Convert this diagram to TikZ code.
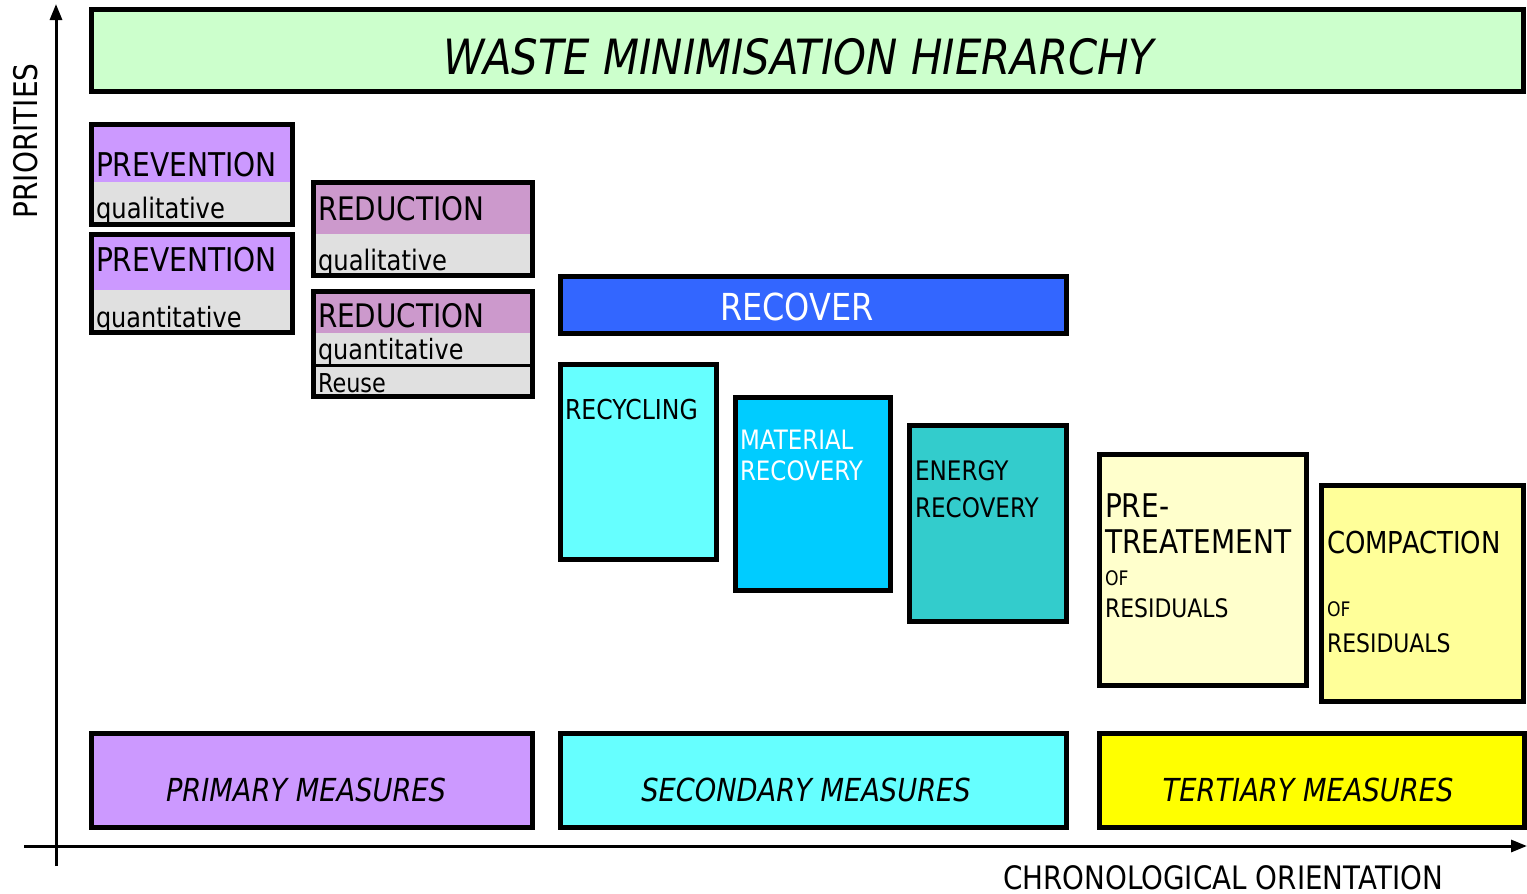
\documentclass[tikz,border=0pt]{standalone}
\usepackage{fontspec}
\setmainfont{DejaVu Sans}[FakeStretch=0.86]
\usetikzlibrary{arrows.meta}
\definecolor{titlegreen}{HTML}{CCFFCC}
\definecolor{prevpurple}{HTML}{CC99FF}
\definecolor{redpurple}{HTML}{CC99CC}
\definecolor{lightgray}{HTML}{E0E0E0}
\definecolor{recblue}{HTML}{3366FF}
\definecolor{cyanlight}{HTML}{66FFFF}
\definecolor{cyanmid}{HTML}{00CCFF}
\definecolor{teal2}{HTML}{33CCCC}
\definecolor{paleyellow}{HTML}{FFFFCC}
\definecolor{midyellow}{HTML}{FFFF99}
\definecolor{brightyellow}{HTML}{FFFF00}
\tikzset{
  boxline/.style={draw=black, line width=5pt},
  lbl/.style={anchor=base west, inner sep=0pt, outer sep=0pt},
  axis/.style={line width=3pt, -{Triangle[length=16pt,width=12pt]}},
}
\newcommand{\fsz}[1]{\fontsize{#1}{#1}\selectfont}
\begin{document}
\begin{tikzpicture}[x=1pt,y=-1pt]
\useasboundingbox (0,0) rectangle (1527,894);
% axes
\coordinate (ybot) at (56,866);
\coordinate (ytop) at (56,4);
\coordinate (xleft) at (24,846);
\coordinate (xright) at (1527,846);
\draw[axis] (ybot) -- (ytop);
\draw[axis] (xleft) -- (xright);
\node[rotate=90, inner sep=0pt] (prio) at (26,141) {\fsz{32.5}PRIORITIES};
\node[lbl] (chrono) at (1003,889) {\fsz{32.3}CHRONOLOGICAL ORIENTATION};

% title
\path[fill=titlegreen, boxline] (91.5,9.5) rectangle (1523.5,91.5);
\node[inner sep=0pt] (title) at (799,57) {\fsz{48.6}\itshape WASTE MINIMISATION HIERARCHY};

% prevention qualitative
\fill[lightgray] (91.5,124.5) rectangle (292.5,224.5);
\fill[prevpurple] (91.5,124.5) rectangle (292.5,182);
\draw[boxline] (91.5,124.5) rectangle (292.5,224.5);
\node[lbl] (pq1) at (96,176) {\fsz{32.7}PREVENTION};
\node[lbl] (pq2) at (96,218) {\fsz{28.2}qualitative};

% prevention quantitative
\fill[lightgray] (91.5,234.5) rectangle (292.5,332.5);
\fill[prevpurple] (91.5,234.5) rectangle (292.5,290);
\draw[boxline] (91.5,234.5) rectangle (292.5,332.5);
\node[lbl] (pn1) at (96,271) {\fsz{32.7}PREVENTION};
\node[lbl] (pn2) at (96,327) {\fsz{27.9}quantitative};

% reduction qualitative
\fill[lightgray] (313.5,182.5) rectangle (532.5,275.5);
\fill[redpurple] (313.5,182.5) rectangle (532.5,234);
\draw[boxline] (313.5,182.5) rectangle (532.5,275.5);
\node[lbl] (rq1) at (318,220) {\fsz{32.4}REDUCTION};
\node[lbl] (rq2) at (318,270) {\fsz{28.2}qualitative};

% reduction quantitative + reuse
\fill[lightgray] (313.5,291.5) rectangle (532.5,396.5);
\fill[redpurple] (313.5,291.5) rectangle (532.5,333);
\draw[line width=3pt] (313.5,365) -- (532.5,365);
\draw[boxline] (313.5,291.5) rectangle (532.5,396.5);
\node[lbl] (rn1) at (318,327) {\fsz{32.4}REDUCTION};
\node[lbl] (rn2) at (318,359) {\fsz{27.9}quantitative};
\node[lbl] (reuse) at (318,392) {\fsz{26}Reuse};

% recover
\path[fill=recblue, boxline] (560.5,276.5) rectangle (1066.5,333.5);
\node[inner sep=0pt, text=white] (recover) at (797,307) {\fsz{37.2}RECOVER};

% recycling
\path[fill=cyanlight, boxline] (560.5,364.5) rectangle (716.5,559.5);
\node[lbl] (recyc) at (565,419) {\fsz{27.4}RECYCLING};

% material recovery
\path[fill=cyanmid, boxline] (735.5,397.5) rectangle (890.5,590.5);
\node[lbl, text=white] (mat1) at (740,449) {\fsz{26.7}MATERIAL};
\node[lbl, text=white] (mat2) at (740,480) {\fsz{26.7}RECOVERY};

% energy recovery
\path[fill=teal2, boxline] (909.5,425.5) rectangle (1066.5,621.5);
\node[lbl] (en1) at (915,480) {\fsz{26.9}ENERGY};
\node[lbl] (en2) at (915,517) {\fsz{26.9}RECOVERY};

% pre-treatment
\path[fill=paleyellow, boxline] (1099.5,454.5) rectangle (1306.5,685.5);
\node[lbl] (pt1) at (1105,517) {\fsz{32.6}PRE-};
\node[lbl] (pt2) at (1105,553) {\fsz{32.6}TREATEMENT};
\node[lbl] (pt3) at (1105,585) {\fsz{20}OF};
\node[lbl] (pt4) at (1105,617) {\fsz{25.5}RESIDUALS};

% compaction
\path[fill=midyellow, boxline] (1321.5,485.5) rectangle (1523.5,701.5);
\node[lbl] (cp1) at (1327,553) {\fsz{30.2}COMPACTION};
\node[lbl] (cp2) at (1327,616) {\fsz{20}OF};
\node[lbl] (cp3) at (1327,652) {\fsz{25.5}RESIDUALS};

% measures
\path[fill=prevpurple, boxline] (91.5,733.5) rectangle (532.5,827.5);
\node[inner sep=0pt] (prim) at (306,790) {\fsz{31.7}\itshape PRIMARY MEASURES};
\path[fill=cyanlight, boxline] (560.5,733.5) rectangle (1066.5,827.5);
\node[inner sep=0pt] (sec) at (806,790) {\fsz{31.7}\itshape SECONDARY MEASURES};
\path[fill=brightyellow, boxline] (1099.5,733.5) rectangle (1524.5,827.5);
\node[inner sep=0pt] (ter) at (1308,790) {\fsz{31.7}\itshape TERTIARY MEASURES};
\end{tikzpicture}
\end{document}
